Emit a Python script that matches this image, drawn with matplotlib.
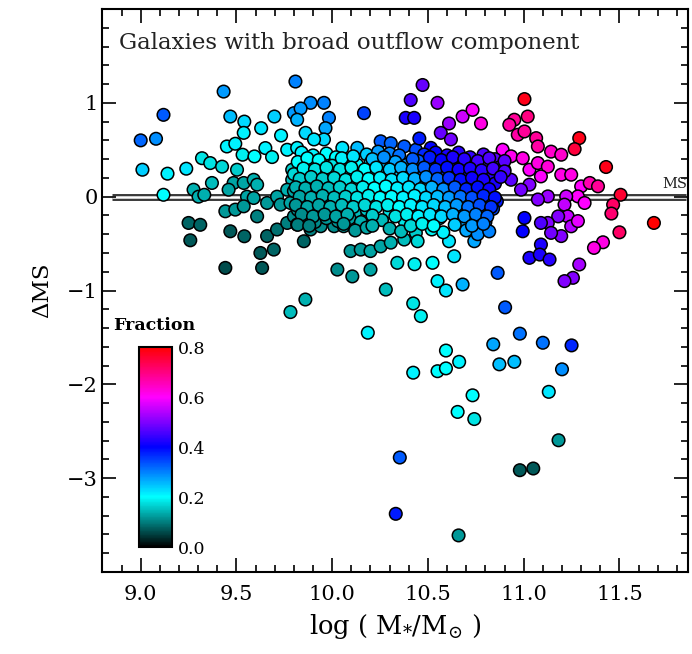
import matplotlib
matplotlib.use("Agg")
import matplotlib.pyplot as plt
from matplotlib.colors import LinearSegmentedColormap
from matplotlib.ticker import MultipleLocator

plt.rcParams['font.family'] = ['DejaVu Serif']
plt.rcParams['mathtext.fontset'] = 'dejavuserif'

# ---------------- data: (log M*, dMS, fraction) ----------------
outer_x = [9.433, 9.119, 9.00, 9.08, 9.009, 9.14, 9.238, 9.119, 9.468, 9.541, 9.538, 9.629, 9.698, 9.808,
           9.80, 9.733, 9.45, 9.494, 9.532, 9.594, 9.651, 9.686, 9.765, 9.32, 9.363, 9.425, 9.503, 9.372,
           9.276, 9.302, 9.332, 9.485, 9.459, 9.538, 9.59, 9.608, 9.555, 9.59, 9.442, 9.494, 9.538, 9.608,
           9.66, 9.712, 9.73, 9.25, 9.311, 9.259, 9.468, 9.541, 9.442, 9.634, 9.625, 9.695, 9.66, 9.712,
           9.765, 9.80, 9.791, 9.791, 9.765, 9.782,
           9.887, 9.957, 9.983, 9.965, 9.957, 9.835, 9.817, 9.861, 9.905, 9.817, 10.166, 10.053, 10.131,
           10.253, 10.306, 10.376, 10.437, 10.455, 10.515, 10.472, 10.41, 10.55, 10.384, 10.428, 10.61,
           10.681, 10.733, 10.567, 10.62,
           10.027, 10.105, 10.2, 10.28, 10.34, 10.43, 10.524, 10.55, 10.594, 10.681, 10.61, 10.637, 10.742,
           10.096, 10.149, 10.2, 10.253, 10.306, 10.376, 10.437, 10.446, 9.852, 9.817, 9.887, 9.94, 10.01,
           10.06, 9.782, 9.86, 10.186,
           10.903, 10.98, 11.10, 11.25, 10.841, 10.873, 10.951, 11.20, 11.131, 11.182, 10.98, 11.05, 10.353,
           10.332, 10.66, 10.594, 10.663, 10.55, 10.594, 10.423, 10.733, 10.655, 10.742, 10.423, 10.463,
           10.864,
           11.004, 11.021, 10.951, 10.925, 10.969, 11.004, 11.065, 11.074, 11.143, 11.196, 11.29, 11.266,
           11.43, 11.506, 11.467, 11.458, 11.68, 11.5, 11.414, 11.367, 11.29, 11.257, 11.213, 10.777,
           10.89, 10.934, 10.995, 11.03, 11.074, 11.126, 11.09, 11.196, 11.248, 11.3, 11.345, 11.388,
           11.283, 11.318, 11.222, 11.213, 11.126, 11.074, 11.03, 10.986, 10.934, 10.899, 11.23, 11.18,
           11.126, 11.09, 11.248, 11.196, 11.143, 11.283, 11.004, 10.995, 11.09, 11.03, 11.084, 11.135]
outer_y = [1.12, 0.872, 0.60, 0.617, 0.287, 0.245, 0.298, 0.02, 0.854, 0.80, 0.68, 0.73, 0.854, 1.227,
           0.89, 0.652, 0.535, 0.564, 0.447, 0.429, 0.518, 0.422, 0.50, 0.41, 0.358, 0.32, 0.287, 0.146,
           0.074, 0.0, 0.02, 0.146, 0.074, 0.146, 0.18, 0.128, 0.0, -0.014, -0.156, -0.138, -0.103, -0.21,
           -0.067, 0.0, -0.085, -0.28, -0.30, -0.465, -0.369, -0.422, -0.759, -0.759, -0.60, -0.564, -0.42,
           -0.35, -0.28, -0.21, 0.287, 0.18, 0.074, -0.067,
           1.0, 1.0, 0.84, 0.73, 0.61, 0.94, 0.82, 0.68, 0.61, 0.52, 0.89, 0.52, 0.52,
           0.59, 0.57, 0.535, 0.50, 0.62, 0.52, 1.19, 1.03, 1.0, 0.84, 0.84, 0.78,
           0.854, 0.925, 0.68, 0.61,
           -0.777, -0.85, -0.777, -0.99, -0.705, -0.72, -0.705, -0.90, -1.0, -0.936, -0.475, -0.635, -0.475,
           -0.58, -0.564, -0.58, -0.53, -0.49, -0.457, -0.386, -0.475, -0.475, -0.297, -0.35, -0.315, -0.315,
           -0.315, -1.23, -1.096, -1.45,
           -1.18, -1.46, -1.557, -1.585, -1.574, -1.787, -1.76, -1.84, -2.08, -2.596, -2.915, -2.897, -2.78,
           -3.38, -3.61, -1.64, -1.76, -1.86, -1.83, -1.876, -2.117, -2.294, -2.37, -1.138, -1.273,
           -0.812,
           1.04, 0.854, 0.82, 0.766, 0.66, 0.695, 0.624, 0.535, 0.48, 0.447, 0.624, 0.507,
           0.316, 0.02, -0.085, -0.18, -0.28, -0.38, -0.486, -0.546, -0.723, -0.865, -0.90, 0.78,
           0.50, 0.43, 0.41, 0.287, 0.358, 0.32, 0.216, 0.234, 0.234, 0.11, 0.146, 0.11,
           0.003, -0.067, 0.003, -0.085, 0.003, -0.03, 0.128, 0.074, 0.18, 0.287, -0.21, -0.21,
           -0.28, -0.28, -0.316, -0.42, -0.386, -0.26, -0.227, -0.369, -0.51, -0.652, -0.617, -0.67]
outer_f = [0.28, 0.33, 0.32, 0.29, 0.24, 0.21, 0.22, 0.20, 0.25, 0.23, 0.21, 0.22, 0.24, 0.30,
           0.28, 0.21, 0.21, 0.21, 0.19, 0.20, 0.21, 0.19, 0.21, 0.18, 0.18, 0.17, 0.16, 0.15,
           0.14, 0.14, 0.14, 0.13, 0.13, 0.13, 0.14, 0.14, 0.13, 0.13, 0.12, 0.12, 0.12, 0.10,
           0.12, 0.13, 0.12, 0.08, 0.08, 0.07, 0.07, 0.08, 0.06, 0.07, 0.07, 0.08, 0.08, 0.09,
           0.10, 0.11, 0.16, 0.15, 0.14, 0.13,
           0.29, 0.30, 0.30, 0.27, 0.23, 0.28, 0.26, 0.23, 0.22, 0.21, 0.35, 0.22, 0.25,
           0.33, 0.32, 0.33, 0.34, 0.38, 0.40, 0.48, 0.46, 0.52, 0.42, 0.42, 0.52,
           0.56, 0.60, 0.48, 0.49,
           0.11, 0.12, 0.13, 0.15, 0.17, 0.19, 0.20, 0.21, 0.22, 0.26, 0.22, 0.22, 0.27,
           0.12, 0.12, 0.13, 0.13, 0.14, 0.15, 0.16, 0.17, 0.08, 0.10, 0.10, 0.11, 0.11,
           0.12, 0.15, 0.14, 0.21,
           0.33, 0.31, 0.31, 0.37, 0.27, 0.25, 0.25, 0.29, 0.22, 0.12, 0.07, 0.07, 0.33,
           0.38, 0.12, 0.20, 0.21, 0.20, 0.20, 0.21, 0.20, 0.20, 0.18, 0.18, 0.19,
           0.33,
           0.78, 0.70, 0.68, 0.67, 0.67, 0.68, 0.68, 0.67, 0.64, 0.64, 0.78, 0.75,
           0.78, 0.76, 0.72, 0.71, 0.80, 0.72, 0.62, 0.62, 0.53, 0.50, 0.50, 0.62,
           0.60, 0.61, 0.62, 0.60, 0.62, 0.63, 0.60, 0.62, 0.62, 0.60, 0.66, 0.68,
           0.60, 0.60, 0.56, 0.55, 0.52, 0.50, 0.50, 0.49, 0.47, 0.47, 0.55, 0.50,
           0.50, 0.46, 0.54, 0.50, 0.49, 0.58, 0.40, 0.40, 0.42, 0.42, 0.42, 0.43]

core_x = [9.84, 9.90, 9.97, 10.02, 10.18, 10.24, 10.30, 10.35, 10.48, 10.54, 10.60, 10.66, 10.72, 10.79, 10.85,
          9.82, 9.88, 9.94, 10.00, 10.07, 10.13, 10.20, 10.26, 10.33, 10.39, 10.45, 10.51, 10.57, 10.63, 10.69,
          10.75, 10.81, 10.87,
          9.80, 9.86, 9.92, 9.98, 10.04, 10.10, 10.16, 10.22, 10.28, 10.34, 10.40, 10.46, 10.52, 10.58, 10.64,
          10.70, 10.76, 10.82,
          9.83, 9.89, 9.95, 10.01, 10.07, 10.13, 10.19, 10.25, 10.31, 10.37, 10.43, 10.49, 10.55, 10.61, 10.67,
          10.73, 10.79, 10.85,
          9.80, 9.86, 9.92, 9.98, 10.04, 10.10, 10.16, 10.22, 10.28, 10.34, 10.40, 10.46, 10.52, 10.58, 10.64,
          10.70, 10.76, 10.82,
          9.84, 9.90, 9.96, 10.02, 10.08, 10.14, 10.20, 10.26, 10.32, 10.38, 10.44, 10.50, 10.56, 10.62, 10.68,
          10.74, 10.80, 10.86,
          9.82, 9.88, 9.94, 10.00, 10.06, 10.12, 10.18, 10.30, 10.36, 10.42, 10.48, 10.54, 10.60, 10.66, 10.72,
          10.78, 10.84,
          9.85, 9.91, 9.97, 10.03, 10.09, 10.15, 10.26, 10.38, 10.44, 10.50, 10.56, 10.68, 10.74, 10.80,
          10.12, 10.18, 10.30, 10.36, 10.52, 10.58, 10.70, 10.76, 10.82]
core_y = [0.47, 0.44, 0.46, 0.42, 0.45, 0.48, 0.46, 0.44, 0.45, 0.47, 0.44, 0.47, 0.42, 0.45, 0.40,
          0.37, 0.34, 0.36, 0.33, 0.37, 0.34, 0.36, 0.33, 0.37, 0.34, 0.38, 0.35, 0.37, 0.33, 0.36,
          0.32, 0.35, 0.31,
          0.24, 0.27, 0.23, 0.26, 0.22, 0.26, 0.23, 0.27, 0.24, 0.21, 0.25, 0.22, 0.26, 0.23, 0.25,
          0.21, 0.24, 0.20,
          0.14, 0.16, 0.12, 0.15, 0.11, 0.16, 0.13, 0.15, 0.11, 0.16, 0.12, 0.15, 0.11, 0.15, 0.12,
          0.16, 0.11, 0.14,
          0.06, 0.03, 0.07, 0.02, 0.06, 0.02, 0.07, 0.03, 0.06, 0.02, 0.06, 0.02, 0.05, 0.01, 0.05,
          0.02, 0.06, 0.03,
          -0.04, -0.07, -0.03, -0.06, -0.02, -0.07, -0.04, -0.07, -0.03, -0.06, -0.02, -0.07, -0.04, -0.07, -0.03,
          -0.06, -0.02, -0.05,
          -0.14, -0.17, -0.13, -0.16, -0.12, -0.17, -0.14, -0.16, -0.13, -0.17, -0.13, -0.16, -0.12, -0.17, -0.14,
          -0.18, -0.13,
          -0.24, -0.27, -0.23, -0.26, -0.23, -0.27, -0.25, -0.27, -0.24, -0.27, -0.23, -0.26, -0.23, -0.27,
          -0.36, -0.33, -0.34, -0.37, -0.35, -0.38, -0.36, -0.40, -0.37]
core_f = [0.21, 0.21, 0.20, 0.20, 0.24, 0.28, 0.30, 0.31, 0.37, 0.40, 0.42, 0.43, 0.44, 0.46, 0.47,
          0.20, 0.19, 0.19, 0.18, 0.19, 0.20, 0.22, 0.25, 0.27, 0.29, 0.33, 0.36, 0.39, 0.41, 0.42,
          0.43, 0.45, 0.46,
          0.17, 0.17, 0.16, 0.17, 0.18, 0.19, 0.20, 0.21, 0.23, 0.24, 0.27, 0.30, 0.33, 0.36, 0.39,
          0.40, 0.42, 0.43,
          0.14, 0.15, 0.15, 0.16, 0.17, 0.18, 0.20, 0.21, 0.21, 0.22, 0.24, 0.27, 0.30, 0.34, 0.37,
          0.40, 0.41, 0.42,
          0.13, 0.14, 0.14, 0.15, 0.16, 0.17, 0.19, 0.20, 0.20, 0.21, 0.21, 0.22, 0.24, 0.27, 0.31,
          0.34, 0.38, 0.40,
          0.13, 0.13, 0.14, 0.15, 0.16, 0.17, 0.18, 0.19, 0.20, 0.21, 0.21, 0.22, 0.24, 0.27, 0.30,
          0.32, 0.36, 0.38,
          0.12, 0.12, 0.13, 0.13, 0.14, 0.15, 0.16, 0.18, 0.20, 0.21, 0.22, 0.23, 0.25, 0.28, 0.30,
          0.32, 0.35,
          0.11, 0.11, 0.12, 0.12, 0.13, 0.14, 0.15, 0.18, 0.20, 0.21, 0.22, 0.27, 0.29, 0.31,
          0.12, 0.13, 0.14, 0.15, 0.19, 0.21, 0.27, 0.29, 0.30]

fill_x = [9.87, 9.93, 10.05, 10.11, 10.21, 10.27, 10.42, 10.51, 10.57, 10.63, 10.69, 10.76, 10.82, 10.90,
          9.85, 9.91, 9.97, 10.04, 10.10, 10.17, 10.23, 10.30, 10.36, 10.42, 10.48, 10.54, 10.60, 10.66,
          10.72, 10.78, 10.84, 10.90,
          9.83, 9.89, 9.95, 10.01, 10.07, 10.13, 10.19, 10.25, 10.31, 10.37, 10.43, 10.49, 10.55, 10.61,
          10.67, 10.73, 10.79, 10.88,
          9.81, 9.86, 9.92, 9.98, 10.04, 10.10, 10.16, 10.22, 10.28, 10.34, 10.40, 10.46, 10.52, 10.58,
          10.64, 10.70, 10.76, 10.82,
          9.83, 9.89, 9.95, 10.01, 10.07, 10.13, 10.19, 10.25, 10.31, 10.37, 10.43, 10.49, 10.55, 10.61,
          10.67, 10.73, 10.79, 10.85,
          9.81, 9.87, 9.93, 9.99, 10.05, 10.11, 10.17, 10.23, 10.29, 10.35, 10.41, 10.47, 10.53, 10.59,
          10.65, 10.71, 10.77, 10.83,
          9.84, 9.90, 9.96, 10.02, 10.08, 10.21, 10.33, 10.39, 10.45, 10.51, 10.57, 10.63, 10.69, 10.75,
          10.81,
          9.82, 9.88, 10.06, 10.21, 10.41, 10.47, 10.53, 10.64, 10.73, 10.79]
fill_y = [0.41, 0.39, 0.41, 0.43, 0.40, 0.42, 0.40, 0.42, 0.39, 0.42, 0.40, 0.38, 0.41, 0.38,
          0.30, 0.29, 0.31, 0.29, 0.31, 0.29, 0.31, 0.29, 0.31, 0.29, 0.31, 0.29, 0.31, 0.29,
          0.30, 0.28, 0.30, 0.27,
          0.19, 0.21, 0.19, 0.20, 0.18, 0.21, 0.19, 0.20, 0.18, 0.20, 0.19, 0.21, 0.19, 0.20,
          0.18, 0.20, 0.18, 0.21,
          0.10, 0.09, 0.11, 0.09, 0.10, 0.08, 0.10, 0.09, 0.11, 0.09, 0.10, 0.08, 0.10, 0.08,
          0.10, 0.08, 0.10, 0.08,
          0.00, -0.01, 0.01, -0.01, 0.00, -0.01, 0.01, -0.01, 0.00, -0.01, 0.01, -0.01, 0.00, -0.01,
          0.00, -0.01, 0.01, -0.01,
          -0.09, -0.11, -0.09, -0.11, -0.09, -0.11, -0.09, -0.11, -0.09, -0.11, -0.09, -0.11, -0.09, -0.11,
          -0.09, -0.11, -0.09, -0.11,
          -0.19, -0.21, -0.19, -0.21, -0.19, -0.20, -0.21, -0.19, -0.21, -0.19, -0.21, -0.19, -0.21, -0.19,
          -0.21,
          -0.30, -0.31, -0.29, -0.31, -0.31, -0.29, -0.31, -0.30, -0.31, -0.29]
fill_f = [0.20, 0.20, 0.21, 0.22, 0.25, 0.29, 0.33, 0.38, 0.40, 0.42, 0.43, 0.45, 0.46, 0.47,
          0.19, 0.18, 0.18, 0.18, 0.19, 0.20, 0.22, 0.24, 0.26, 0.29, 0.33, 0.36, 0.39, 0.41,
          0.42, 0.43, 0.45, 0.46,
          0.16, 0.16, 0.16, 0.17, 0.18, 0.19, 0.20, 0.21, 0.22, 0.23, 0.26, 0.29, 0.32, 0.36,
          0.39, 0.41, 0.42, 0.44,
          0.14, 0.14, 0.14, 0.15, 0.16, 0.17, 0.19, 0.20, 0.20, 0.21, 0.22, 0.23, 0.26, 0.29,
          0.33, 0.37, 0.39, 0.41,
          0.13, 0.14, 0.14, 0.15, 0.16, 0.18, 0.19, 0.20, 0.20, 0.21, 0.21, 0.23, 0.25, 0.28,
          0.31, 0.34, 0.37, 0.39,
          0.12, 0.13, 0.13, 0.14, 0.15, 0.16, 0.17, 0.18, 0.19, 0.20, 0.21, 0.22, 0.23, 0.25,
          0.28, 0.31, 0.34, 0.36,
          0.11, 0.12, 0.12, 0.13, 0.14, 0.16, 0.18, 0.19, 0.21, 0.22, 0.23, 0.26, 0.28, 0.30,
          0.32,
          0.10, 0.10, 0.12, 0.14, 0.17, 0.19, 0.20, 0.24, 0.28, 0.30]

xs = outer_x + core_x + fill_x
ys = outer_y + core_y + fill_y
fs = outer_f + core_f + fill_f

cbar_ticks = [0.0, 0.2, 0.4, 0.6, 0.8]
x_ticks = [9.0, 9.5, 10.0, 10.5, 11.0, 11.5]
y_ticks = [-3, -2, -1, 0, 1]

cmap = LinearSegmentedColormap.from_list('frac', [
    (0.000, (0.0, 0.0, 0.0)),
    (0.125, (0.0, 0.5, 0.5)),
    (0.250, (0.0, 1.0, 1.0)),
    (0.375, (0.0, 0.5, 1.0)),
    (0.500, (0.0, 0.0, 1.0)),
    (0.625, (0.5, 0.0, 1.0)),
    (0.750, (1.0, 0.0, 1.0)),
    (0.875, (1.0, 0.0, 0.5)),
    (1.000, (1.0, 0.0, 0.0))])

W, H = 692, 654
fig = plt.figure(figsize=(W / 100, H / 100), dpi=100)
ax = fig.add_axes([102.4 / W, 1 - 572 / H, (688 - 102.4) / W, (572 - 9) / H])

# main sequence double line
ax.plot([8.85, 11.85], [0, 0], color='#3a3a3a', lw=5.0, solid_capstyle='butt', zorder=1)
ax.plot([8.85, 11.85], [0, 0], color='white', lw=1.8, solid_capstyle='butt', zorder=1.1)
ax.text(11.79, 0.065, 'MS', fontsize=10.5, ha='center', va='bottom', color='#222222')

sc = ax.scatter(xs, ys, c=fs, cmap=cmap, vmin=0, vmax=0.8, s=82,
                edgecolors='black', linewidths=1.1, zorder=2)

ax.set_xlim(8.8, 11.858)
ax.set_ylim(-4, 2)
ax.set_xticks(x_ticks)
ax.set_xticklabels([f'{v:.1f}' for v in x_ticks])
ax.set_yticks(y_ticks)
ax.set_yticklabels([str(v).replace('-', '\u2212') for v in y_ticks])
ax.xaxis.set_minor_locator(MultipleLocator(0.1))
ax.yaxis.set_minor_locator(MultipleLocator(0.2))
ax.tick_params(which='both', direction='in', top=True, right=True, width=1.2, labelsize=15)
ax.tick_params(which='major', length=10)
ax.tick_params(which='minor', length=5)
ax.tick_params(axis='x', pad=9)
for sp in ax.spines.values():
    sp.set_linewidth(1.5)

ax.set_xlabel(r'log ( $\mathrm{M}_{*}/\mathrm{M}_{\odot}$ )', fontsize=18.5, labelpad=6)
ax.set_ylabel('\u0394MS', fontsize=16.5, labelpad=10)

ax.text(0.0283, 0.9396, 'Galaxies with broad outflow component', transform=ax.transAxes,
        fontsize=16.5, ha='left', va='center', color='#222222')

# colour bar
cax = fig.add_axes([139 / W, 1 - 547 / H, 33 / W, 200 / H])
cb = fig.colorbar(sc, cax=cax, ticks=cbar_ticks)
cb.ax.set_yticklabels([f'{v:.1f}' for v in cbar_ticks])
cb.ax.tick_params(length=0, labelsize=12.5, pad=4)
cb.outline.set_linewidth(1.5)
fig.text(113 / W, 1 - 325 / H, 'Fraction', fontsize=12.5, fontweight='bold',
         ha='left', va='center')

fig.savefig('out.png', dpi=100)
